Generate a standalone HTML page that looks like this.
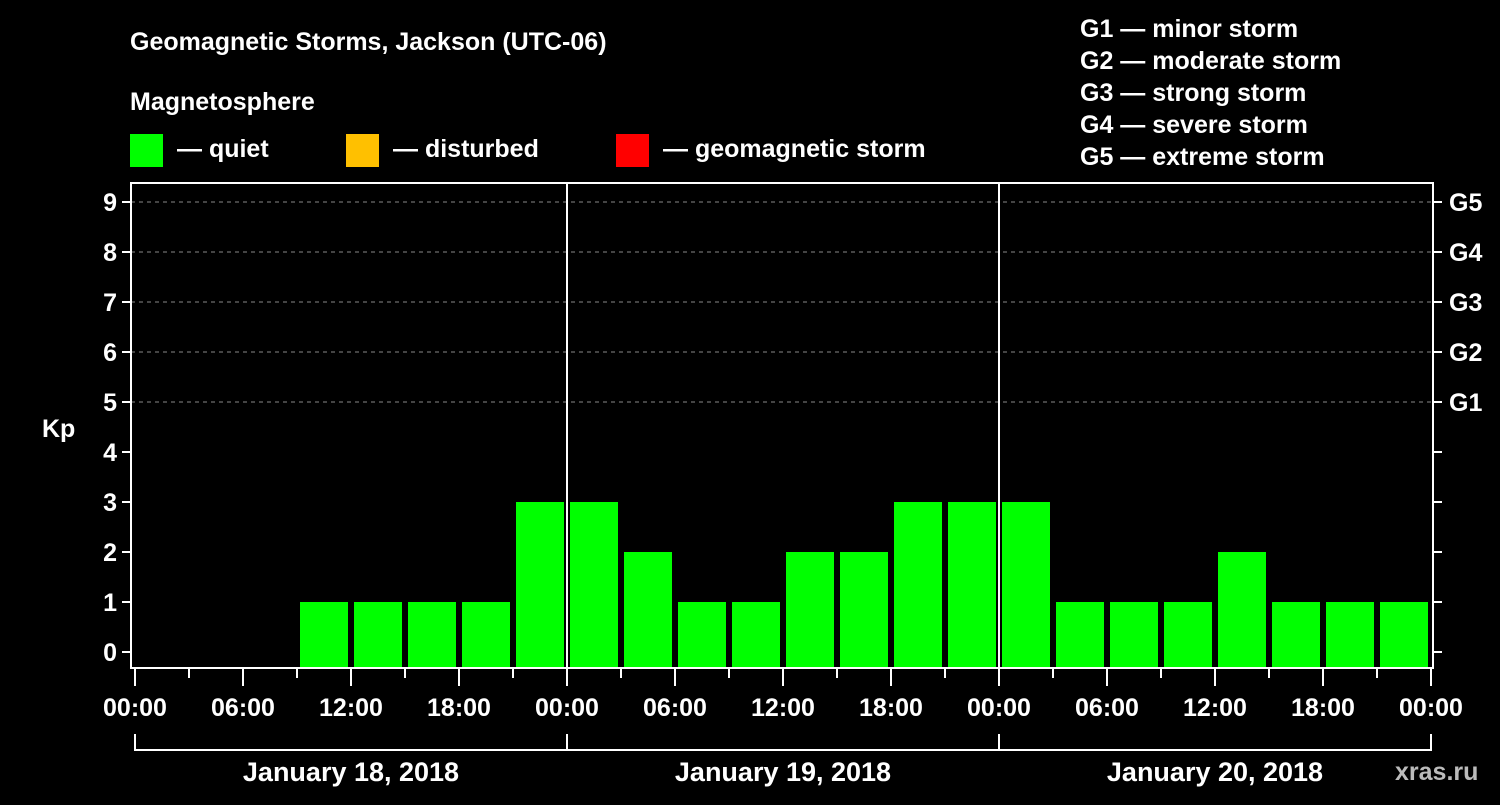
<!DOCTYPE html>
<html><head><meta charset="utf-8"><style>
body{margin:0;background:#000;}
svg text{font-family:"Liberation Sans",Arial,sans-serif;font-weight:bold;fill:#fff;}
</style></head><body>
<svg id="c" width="1500" height="800" xmlns="http://www.w3.org/2000/svg">
<rect width="1500" height="800" fill="#000"/>
<text x="130" y="50" font-size="25">Geomagnetic Storms, Jackson (UTC-06)</text>
<text x="130" y="110" font-size="25">Magnetosphere</text>
<rect x="130" y="134" width="33" height="33" fill="#00ff00"/>
<text x="177" y="157" font-size="25">— quiet</text>
<rect x="346" y="134" width="33" height="33" fill="#ffc000"/>
<text x="393" y="157" font-size="25">— disturbed</text>
<rect x="616" y="134" width="33" height="33" fill="#ff0000"/>
<text x="663" y="157" font-size="25">— geomagnetic storm</text>
<g font-size="25">
<text x="1080" y="37">G1 — minor storm</text>
<text x="1080" y="69">G2 — moderate storm</text>
<text x="1080" y="101">G3 — strong storm</text>
<text x="1080" y="133">G4 — severe storm</text>
<text x="1080" y="165">G5 — extreme storm</text>
</g>
<text x="42" y="437" font-size="25">Kp</text>
<text x="1395" y="780" font-size="25" fill="#bbb" style="fill:#bbb">xras.ru</text>
<g id="plot"></g>
</svg>
<script>
const kpValues=[0,0,0,1,1,1,1,3, 3,2,1,1,2,2,3,3, 3,1,1,1,2,1,1,1];
const dayLabels=["January 18, 2018","January 19, 2018","January 20, 2018"];
const hourLabels=["00:00","06:00","12:00","18:00"];
const kpTicks=[0,1,2,3,4,5,6,7,8,9];
const gLabels=["G1","G2","G3","G4","G5"];
const NS="http://www.w3.org/2000/svg";
const g=document.getElementById('plot');
const X0=135,PX_H=18,L=131,R=1433,T=183,B=668;
const x=h=>X0+PX_H*h;
const y=v=>652-50*v;
function mk(tag,a,p){const e=document.createElementNS(NS,tag);for(const k in a)e.setAttribute(k,a[k]);(p||g).appendChild(e);return e;}
kpTicks.forEach(v=>{
  if(v>=5){const ln=mk('line',{x1:L,x2:R,y1:y(v),y2:y(v),stroke:'#888','stroke-dasharray':'4,4','stroke-width':1});
  
  }
  const t1=mk('line',{x1:L-9,x2:L,y1:y(v),y2:y(v),stroke:'#fff','stroke-width':2});
  
  
  const t2=mk('line',{x1:R,x2:R+9,y1:y(v),y2:y(v),stroke:'#fff','stroke-width':2});
  
  
  const tx=mk('text',{x:L-14,y:y(v)+9,'font-size':25,'text-anchor':'end'});tx.textContent=v;
  
  
});
gLabels.forEach((s,i)=>{const tx=mk('text',{x:1449,y:y(5+i)+9,'font-size':25});tx.textContent=s;
  
  });
kpValues.forEach((v,i)=>{
  if(v<=0)return;
  const c=v>=5?'#ff0000':(v>=4?'#ffc000':'#00ff00');
  const r=mk('rect',{x:x(i*3)+3,y:y(v),width:PX_H*3-6,height:B-y(v),fill:c});
  
  
});
const fr=mk('rect',{x:L,y:T,width:R-L,height:B-T,fill:'none',stroke:'#fff','stroke-width':2});


[1,2].forEach(d=>{const ln=mk('line',{x1:x(d*24),x2:x(d*24),y1:T,y2:B,stroke:'#fff','stroke-width':2});
  
  });
for(let h=0;h<=72;h+=3){
  const major=h%6===0;
  const t=mk('line',{x1:x(h),x2:x(h),y1:B,y2:B+(major?18:10),stroke:'#fff','stroke-width':2});
  
  
  if(major){const tx=mk('text',{x:x(h),y:716,'font-size':25,'text-anchor':'middle'});tx.textContent=hourLabels[(h/6)%4];
    
    }
}
dayLabels.forEach((s,d)=>{
  const p=mk('polyline',{points:`${x(d*24)},734 ${x(d*24)},750 ${x(d*24+24)},750 ${x(d*24+24)},734`,fill:'none',stroke:'#fff','stroke-width':2});
  
  
  const tx=mk('text',{x:x(d*24+12),y:781,'font-size':27,'text-anchor':'middle'});tx.textContent=s;
  
  
});
</script>
</body></html>
